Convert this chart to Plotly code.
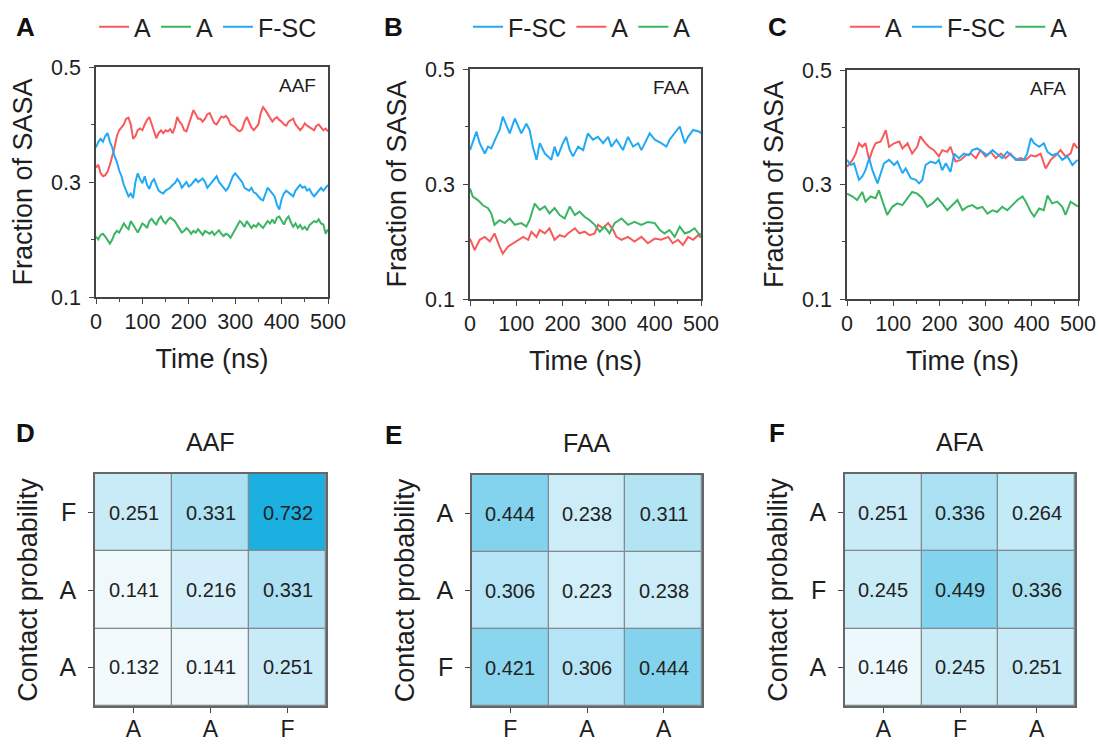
import plotly.graph_objects as go

# ---------------- data: panel A (AAF) ----------------
t_a = list(range(0, 501, 5))
a_red = [0.325,0.33,0.315,0.31,0.312,0.318,0.33,0.345,0.36,0.38,
         0.39,0.395,0.40,0.41,0.412,0.40,0.375,0.38,0.39,0.393,
         0.39,0.40,0.408,0.413,0.40,0.385,0.376,0.385,0.39,0.385,
         0.39,0.388,0.392,0.385,0.395,0.413,0.405,0.40,0.39,0.388,
         0.40,0.415,0.425,0.418,0.41,0.41,0.405,0.41,0.418,0.42,
         0.41,0.402,0.40,0.408,0.414,0.412,0.415,0.41,0.40,0.398,
         0.395,0.39,0.388,0.392,0.405,0.413,0.405,0.395,0.39,0.395,
         0.40,0.42,0.43,0.425,0.418,0.41,0.405,0.41,0.413,0.408,
         0.405,0.40,0.398,0.405,0.408,0.41,0.40,0.395,0.39,0.395,
         0.402,0.398,0.395,0.392,0.39,0.398,0.40,0.395,0.39,0.393,
         0.388]
a_blue = [0.36,0.37,0.375,0.37,0.38,0.385,0.37,0.36,0.345,0.335,
          0.32,0.31,0.295,0.285,0.275,0.28,0.272,0.30,0.315,0.305,
          0.298,0.31,0.295,0.288,0.30,0.305,0.295,0.285,0.282,0.28,
          0.285,0.288,0.29,0.295,0.298,0.305,0.30,0.29,0.295,0.30,
          0.292,0.295,0.30,0.305,0.30,0.303,0.306,0.30,0.29,0.295,
          0.30,0.306,0.31,0.30,0.295,0.29,0.285,0.29,0.30,0.31,
          0.315,0.31,0.305,0.30,0.29,0.288,0.285,0.29,0.282,0.28,
          0.275,0.27,0.268,0.28,0.29,0.285,0.28,0.275,0.26,0.252,
          0.27,0.28,0.285,0.282,0.278,0.275,0.285,0.29,0.295,0.29,
          0.292,0.285,0.288,0.28,0.275,0.28,0.285,0.29,0.285,0.29,
          0.295]
a_green = [0.205,0.20,0.208,0.21,0.205,0.198,0.193,0.20,0.21,0.215,
           0.212,0.22,0.228,0.222,0.218,0.232,0.225,0.218,0.212,0.22,
           0.228,0.225,0.22,0.232,0.236,0.23,0.226,0.235,0.24,0.232,
           0.228,0.234,0.238,0.235,0.232,0.225,0.218,0.212,0.215,0.22,
           0.216,0.21,0.215,0.212,0.218,0.212,0.208,0.215,0.212,0.21,
           0.214,0.208,0.212,0.216,0.21,0.206,0.21,0.208,0.203,0.21,
           0.218,0.226,0.232,0.228,0.222,0.232,0.226,0.22,0.225,0.222,
           0.228,0.224,0.22,0.226,0.232,0.228,0.235,0.228,0.238,0.24,
           0.232,0.226,0.235,0.24,0.23,0.222,0.228,0.22,0.225,0.218,
           0.222,0.216,0.225,0.228,0.232,0.23,0.235,0.228,0.226,0.21,
           0.218]

# ---------------- data: panel B (FAA) ----------------
tb_blue = [0,14,21,32,39,46,57,64,71,79,86,97,104,111,122,129,136,144,151,162,169,176,183,190,
           201,208,216,223,234,245,255,266,277,288,299,306,317,331,342,353,364,371,389,400,414,
           425,432,454,465,472,483,497,500]
b_blue = [0.359,0.391,0.371,0.353,0.365,0.362,0.382,0.394,0.417,0.40,0.388,0.414,0.40,0.388,
          0.405,0.394,0.365,0.342,0.371,0.353,0.348,0.342,0.365,0.348,0.371,0.382,0.359,0.348,
          0.365,0.359,0.388,0.377,0.382,0.371,0.382,0.365,0.377,0.359,0.382,0.365,0.371,0.359,
          0.388,0.377,0.371,0.365,0.377,0.40,0.371,0.382,0.394,0.391,0.388]
tb_green = [0,6,17,28,39,46,53,64,75,86,97,111,122,129,140,151,162,172,183,194,205,216,227,237,
            248,259,270,281,291,302,313,328,342,356,371,385,400,411,421,432,443,454,465,475,486,
            497,500]
b_green = [0.292,0.278,0.272,0.263,0.258,0.249,0.229,0.237,0.232,0.24,0.229,0.232,0.226,0.237,
           0.266,0.255,0.261,0.249,0.258,0.246,0.24,0.261,0.246,0.252,0.243,0.237,0.229,0.217,
           0.226,0.214,0.232,0.24,0.229,0.234,0.229,0.234,0.232,0.22,0.214,0.22,0.208,0.226,
           0.214,0.217,0.223,0.211,0.214]
tb_red = [0,10,21,32,43,53,64,71,82,93,104,115,126,133,144,151,162,172,183,194,205,212,227,237,
          248,259,270,277,288,299,310,317,328,342,356,371,385,400,414,429,439,450,461,472,483,
          494,500]
b_red = [0.205,0.185,0.203,0.208,0.20,0.214,0.191,0.179,0.191,0.197,0.203,0.208,0.203,0.217,
         0.208,0.22,0.214,0.223,0.203,0.211,0.208,0.214,0.223,0.214,0.217,0.211,0.214,0.229,
         0.223,0.232,0.22,0.208,0.203,0.208,0.20,0.208,0.197,0.205,0.203,0.208,0.197,0.203,
         0.194,0.208,0.203,0.211,0.207]

# ---------------- data: panel C (AFA) ----------------
tc_red = [0,12,19,26,33,40,48,55,62,73,84,91,102,113,120,131,141,152,159,167,177,188,199,206,
          217,224,235,246,257,268,279,289,300,311,322,333,343,354,365,376,387,398,408,419,430,
          441,452,462,473,484,491,499]
c_red = [0.331,0.343,0.354,0.372,0.366,0.372,0.343,0.36,0.372,0.375,0.395,0.366,0.372,0.375,
         0.363,0.372,0.354,0.366,0.384,0.375,0.366,0.36,0.349,0.36,0.357,0.366,0.34,0.343,
         0.351,0.354,0.346,0.36,0.349,0.357,0.346,0.354,0.346,0.354,0.343,0.346,0.343,0.351,
         0.349,0.354,0.328,0.343,0.351,0.36,0.349,0.354,0.372,0.363]
tc_blue = [0,8,15,26,33,40,48,55,66,73,80,91,102,109,120,127,138,149,156,163,170,181,192,199,
           206,214,224,232,242,253,264,271,282,293,304,315,325,336,347,358,369,383,390,398,405,
           416,426,434,444,455,466,477,488,499]
c_blue = [0.343,0.334,0.337,0.308,0.314,0.325,0.346,0.325,0.302,0.32,0.337,0.343,0.334,0.34,
          0.32,0.328,0.311,0.308,0.302,0.308,0.334,0.34,0.337,0.343,0.325,0.337,0.322,0.354,
          0.346,0.354,0.351,0.36,0.363,0.357,0.351,0.36,0.354,0.346,0.357,0.349,0.343,0.343,
          0.354,0.381,0.372,0.366,0.372,0.357,0.351,0.354,0.343,0.349,0.334,0.343]
tc_green = [0,12,22,33,40,51,62,69,76,87,98,109,120,131,141,152,163,174,185,196,206,217,228,
            239,250,260,271,282,293,304,315,325,336,347,358,369,380,387,398,405,416,426,434,444,
            455,466,473,484,495,500]
c_green = [0.284,0.279,0.273,0.287,0.27,0.279,0.276,0.29,0.273,0.247,0.261,0.267,0.264,0.276,
           0.287,0.284,0.276,0.261,0.267,0.276,0.267,0.255,0.264,0.273,0.255,0.261,0.264,0.258,
           0.261,0.249,0.255,0.252,0.261,0.255,0.264,0.273,0.279,0.27,0.252,0.244,0.258,0.255,
           0.281,0.267,0.27,0.261,0.247,0.27,0.264,0.262]

# ---------------- data: contact maps ----------------
d_x = ["A", "A", "F"]
d_y = ["A", "A", "F"]          # bottom -> top
d_z = [[0.132, 0.141, 0.251],
       [0.141, 0.216, 0.331],
       [0.251, 0.331, 0.732]]
e_x = ["F", "A", "A"]
e_y = ["F", "A", "A"]
e_z = [[0.421, 0.306, 0.444],
       [0.306, 0.223, 0.238],
       [0.444, 0.238, 0.311]]
f_x = ["A", "F", "A"]
f_y = ["A", "F", "A"]
f_z = [[0.146, 0.245, 0.251],
       [0.245, 0.449, 0.336],
       [0.251, 0.336, 0.264]]

RED, GREEN, BLUE = "#f85a5c", "#3bb563", "#22a9f5"
FONT = "Liberation Sans, Arial, sans-serif"
W, H = 1099, 746
TXT = "#1e1e1e"

def px(x):
    return x / W

def py(y):
    return 1 - y / H

fig = go.Figure()

def line(t, v, name, color, ax, leg):
    fig.add_trace(go.Scatter(x=t, y=v, name=name, mode="lines",
                             line=dict(color=color, width=2),
                             xaxis="x" + ax, yaxis="y" + ax, legend=leg))

# panel A (legend order: A red, A green, F-SC blue)
line(t_a, a_red, "A", RED, "", "legend")
line(t_a, a_green, "A", GREEN, "", "legend")
line(t_a, a_blue, "F-SC", BLUE, "", "legend")
# panel B (legend order: F-SC, A red, A green)
line(tb_blue, b_blue, "F-SC", BLUE, "2", "legend2")
line(tb_red, b_red, "A", RED, "2", "legend2")
line(tb_green, b_green, "A", GREEN, "2", "legend2")
# panel C (legend order: A red, F-SC, A green)
line(tc_red, c_red, "A", RED, "3", "legend3")
line(tc_blue, c_blue, "F-SC", BLUE, "3", "legend3")
line(tc_green, c_green, "A", GREEN, "3", "legend3")

CSCALE = [[0, "#f3fafd"], [1, "#1cb0e0"]]
for z, ax in [(d_z, "4"), (e_z, "5"), (f_z, "6")]:
    fig.add_trace(go.Heatmap(z=z, x=[0, 1, 2], y=[0, 1, 2], colorscale=CSCALE,
                             zmin=0.13, zmax=0.732, showscale=False, xgap=1.3, ygap=1.3,
                             texttemplate="%{z:.3f}", textfont=dict(size=20, color="#222", family=FONT),
                             xaxis="x" + ax, yaxis="y" + ax, hoverinfo="skip"))

AXC = "#444"
def line_x(dom, anchor):
    return dict(domain=dom, anchor=anchor, range=[0, 500], dtick=100, tick0=0,
                ticks="outside", ticklen=5, tickwidth=1.3, tickcolor=AXC,
                minor=dict(ticks="outside", ticklen=3, dtick=50, tickcolor=AXC, tickwidth=1.2),
                showline=True, linecolor=AXC, linewidth=1.5, mirror=True, automargin=False,
                showgrid=False, zeroline=False, ticklabelstandoff=-1,
                tickfont=dict(size=21.5, color=TXT, family=FONT),
                title=dict(text="Time (ns)", font=dict(size=27, color=TXT, family=FONT), standoff=17))

def line_y(dom, anchor):
    return dict(domain=dom, anchor=anchor, range=[0.1, 0.5], dtick=0.2, tick0=0.1, tickformat=".1f",
                ticks="outside", ticklen=5, tickwidth=1.3, tickcolor=AXC,
                minor=dict(ticks="outside", ticklen=3, dtick=0.1, tickcolor=AXC, tickwidth=1.2),
                showline=True, linecolor=AXC, linewidth=1.5, mirror=True, automargin=False,
                showgrid=False, zeroline=False, ticklabelstandoff=4,
                tickfont=dict(size=21.5, color=TXT, family=FONT),
                title=dict(text="Fraction of SASA", font=dict(size=27, color=TXT, family=FONT), standoff=11))

def hm_x(dom, anchor, labels):
    return dict(domain=dom, anchor=anchor, range=[-0.5, 2.5], tickvals=[0, 1, 2], ticktext=labels,
                ticks="outside", ticklen=5, tickwidth=1.3, tickcolor=AXC,
                showline=True, linecolor="#666", linewidth=1.5, mirror=True, automargin=False,
                showgrid=False, zeroline=False, ticklabelstandoff=-3,
                tickfont=dict(size=23, color=TXT, family=FONT))

def hm_y(dom, anchor, labels):
    return dict(domain=dom, anchor=anchor, range=[-0.5, 2.5], tickvals=[0, 1, 2], ticktext=labels,
                ticks="outside", ticklen=5, tickwidth=1.3, tickcolor=AXC,
                showline=True, linecolor="#666", linewidth=1.5, mirror=True, automargin=False,
                showgrid=False, zeroline=False, ticklabelstandoff=7,
                tickfont=dict(size=25, color=TXT, family=FONT),
                title=dict(text="Contact probability", font=dict(size=27, color=TXT, family=FONT), standoff=14))

layout = dict(
    width=W, height=H, margin=dict(l=0, r=0, t=0, b=0, autoexpand=False),
    paper_bgcolor="white", plot_bgcolor="white",
    font=dict(family=FONT, color=TXT),
    xaxis=line_x([px(96), px(328)], "y"), yaxis=line_y([py(297), py(67)], "x"),
    xaxis2=line_x([px(470), px(701)], "y2"), yaxis2=line_y([py(299), py(69)], "x2"),
    xaxis3=line_x([px(847), px(1078)], "y3"), yaxis3=line_y([py(299), py(70)], "x3"),
    xaxis4=hm_x([px(95), px(326)], "y4", d_x), yaxis4=hm_y([py(706), py(474)], "x4", d_y),
    xaxis5=hm_x([px(472), px(702)], "y5", e_x), yaxis5=hm_y([py(706), py(475)], "x5", e_y),
    xaxis6=hm_x([px(845), px(1075)], "y6", f_x), yaxis6=hm_y([py(706), py(474)], "x6", f_y),
    showlegend=True,
)
legbase = dict(orientation="h", yanchor="middle", xanchor="left", bgcolor="rgba(0,0,0,0)",
               font=dict(size=25, color=TXT, family=FONT), itemwidth=30, tracegroupgap=0)
layout["legend"] = dict(legbase, x=px(94), y=py(27))
layout["legend2"] = dict(legbase, x=px(468), y=py(27))
layout["legend3"] = dict(legbase, x=px(845), y=py(27))

shapes = []
for ax in ["4", "5", "6"]:
    shapes.append(dict(type="rect", xref="x" + ax + " domain", yref="y" + ax + " domain",
                       x0=0, x1=1, y0=0, y1=1, fillcolor="#7f8b90", line=dict(width=0), layer="below"))
layout["shapes"] = shapes

ann = []
for txt, x, y in [("A", 25, 27), ("B", 393, 27), ("C", 777, 27),
                  ("D", 25, 433), ("E", 393, 435), ("F", 777, 433)]:
    ann.append(dict(text="<b>" + txt + "</b>", x=px(x), y=py(y), xref="paper", yref="paper",
                    showarrow=False, xanchor="center", yanchor="middle",
                    font=dict(size=26, color="#111", family=FONT)))
for txt, ax in [("AAF", ""), ("FAA", "2"), ("AFA", "3")]:
    ann.append(dict(text=txt, x=0.955, y=0.975, xref="x" + ax + " domain", yref="y" + ax + " domain",
                    showarrow=False, xanchor="right", yanchor="top",
                    font=dict(size=19, color=TXT, family=FONT)))
for txt, ax in [("AAF", "4"), ("FAA", "5"), ("AFA", "6")]:
    ann.append(dict(text=txt, x=0.5, y=1, yshift=32, xref="x" + ax + " domain", yref="y" + ax + " domain",
                    showarrow=False, xanchor="center", yanchor="middle",
                    font=dict(size=25, color=TXT, family=FONT)))
layout["annotations"] = ann

fig.update_layout(**layout)
fig.write_html("out.html", config={"displayModeBar": False},
               post_script="document.body.style.margin='0';document.body.style.overflow='hidden';")
